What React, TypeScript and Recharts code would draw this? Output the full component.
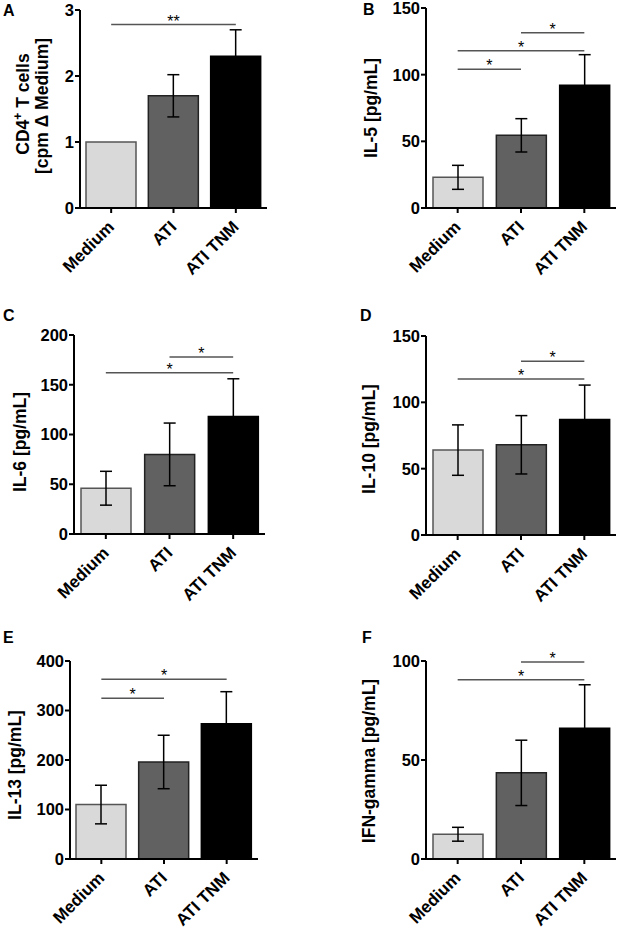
import React from 'react'
import { BarChart, Bar, XAxis, YAxis, ErrorBar, Cell, ReferenceLine } from 'recharts'

const categories = ['Medium', 'ATI', 'ATI TNM']
const barFills = ['#d9d9d9', '#616161', '#000000']
const barStrokes = ['#555555', '#222222', '#000000']

// means and SD per panel
const cd4Values = [1.0, 1.7, 2.3]
const cd4Errors = [null, 0.32, 0.4]
const il5Values = [23, 54.5, 92]
const il5Errors = [9, 12.5, 23]
const il6Values = [46, 80, 118]
const il6Errors = [17, 31.5, 38]
const il10Values = [64, 68, 87]
const il10Errors = [19, 22, 26]
const il13Values = [110, 196, 273]
const il13Errors = [39, 54, 65]
const ifnValues = [12.5, 43.5, 66]
const ifnErrors = [3.5, 16.5, 22]

const cd4Ticks = [0, 1, 2, 3]
const il5Ticks = [0, 50, 100, 150]
const il6Ticks = [0, 50, 100, 150, 200]
const il10Ticks = [0, 50, 100, 150]
const il13Ticks = [0, 100, 200, 300, 400]
const ifnTicks = [0, 50, 100]

// significance brackets: [from, to, y, mark]
const cd4Sig = [['Medium', 'ATI TNM', 2.78, '**']]
const il5Sig = [['Medium', 'ATI', 104, '*'], ['Medium', 'ATI TNM', 118, '*'], ['ATI', 'ATI TNM', 131.5, '*']]
const il6Sig = [['Medium', 'ATI TNM', 162, '*'], ['ATI', 'ATI TNM', 178, '*']]
const il10Sig = [['Medium', 'ATI TNM', 117.5, '*'], ['ATI', 'ATI TNM', 131, '*']]
const il13Sig = [['Medium', 'ATI', 325, '*'], ['Medium', 'ATI TNM', 363, '*']]
const ifnSig = [['Medium', 'ATI TNM', 90.5, '*'], ['ATI', 'ATI TNM', 99.5, '*']]

const FONT = '"Liberation Sans", Arial, sans-serif'

const XTick = (props: any) => {
  const { x, y, payload } = props
  const ax = x + 4
  const ay = y + 13
  return (
    <text
      x={ax}
      y={ay}
      transform={`rotate(-45 ${ax} ${ay})`}
      textAnchor="end"
      fontSize={17}
      fontWeight="bold"
      fontFamily={FONT}
      fill="#000"
    >
      {payload.value}
    </text>
  )
}

const SigLabel = (mark: string) => (props: any) => {
  const vb = props.viewBox || {}
  const cx = vb.x + (vb.width || 0) / 2
  return (
    <text x={cx} y={vb.y + 2} textAnchor="middle" fontSize={16} fontFamily={FONT} fill="#000">
      {mark}
    </text>
  )
}

type PanelProps = {
  values: (number)[]
  errors: (number | null)[]
  ticks: number[]
  sig: any[]
  x0: number
  x1: number
  y0: number
  y1: number
}

function Panel({ values, errors, ticks, sig, x0, x1, y0, y1 }: PanelProps) {
  const yw = 40
  const mt = 20
  const left = x0 - yw
  const top = y0 - mt
  const width = x1 - left + 1
  const height = y1 - top + 80
  const data = categories.map((name, i) => ({ name, value: values[i], err: errors[i] }))
  return (
    <div style={{ position: 'absolute', left, top }}>
      <BarChart
        width={width}
        height={height}
        data={data}
        margin={{ top: mt, right: 1, left: 0, bottom: 0 }}
        barSize={50}
      >
        <XAxis
          dataKey="name"
          height={80}
          interval={0}
          tick={<XTick />}
          tickSize={5}
          axisLine={{ stroke: '#000', strokeWidth: 2 }}
          tickLine={{ stroke: '#000', strokeWidth: 2 }}
        />
        <YAxis
          width={yw}
          domain={[ticks[0], ticks[ticks.length - 1]]}
          ticks={ticks}
          interval={0}
          tickSize={5}
          tickMargin={1}
          axisLine={{ stroke: '#000', strokeWidth: 2 }}
          tickLine={{ stroke: '#000', strokeWidth: 2 }}
          tick={{ fill: '#000', fontSize: 16.5, fontWeight: 'bold', fontFamily: FONT }}
        />
        <Bar dataKey="value" isAnimationActive={false} strokeWidth={1.5}>
          {data.map((d, i) => (
            <Cell key={d.name} fill={barFills[i]} stroke={barStrokes[i]} />
          ))}
          <ErrorBar dataKey="err" width={6} stroke="#000" strokeWidth={1.5} direction="y" />
        </Bar>
        {sig.map((s, i) => (
          <ReferenceLine
            key={i}
            segment={[{ x: s[0], y: s[2] }, { x: s[1], y: s[2] }]}
            stroke="#555"
            strokeWidth={1.5}
            ifOverflow="visible"
            label={SigLabel(s[3])}
          />
        ))}
      </BarChart>
    </div>
  )
}

const letterStyle = { fontSize: 16, fontWeight: 'bold' as const, fontFamily: FONT, fill: '#000' }
const labelStyle = { fontSize: 17.5, fontWeight: 'bold' as const, fontFamily: FONT, fill: '#000' }

function YLabel({ x, y, children }: { x: number; y: number; children: React.ReactNode }) {
  return (
    <text x={x} y={y} transform={`rotate(-90 ${x} ${y})`} textAnchor="middle" style={labelStyle}>
      {children}
    </text>
  )
}

export default function App() {
  return (
    <div style={{ position: 'absolute', left: 0, top: 0, width: 617, height: 928, background: '#fff' }}>
      <Panel values={cd4Values} errors={cd4Errors} ticks={cd4Ticks} sig={cd4Sig} x0={80} x1={267} y0={10} y1={208} />
      <Panel values={il5Values} errors={il5Errors} ticks={il5Ticks} sig={il5Sig} x0={426} x1={616} y0={8} y1={208} />
      <Panel values={il6Values} errors={il6Errors} ticks={il6Ticks} sig={il6Sig} x0={74} x1={265} y0={335} y1={534} />
      <Panel values={il10Values} errors={il10Errors} ticks={il10Ticks} sig={il10Sig} x0={426} x1={616} y0={336} y1={535} />
      <Panel values={il13Values} errors={il13Errors} ticks={il13Ticks} sig={il13Sig} x0={70} x1={258} y0={661} y1={859} />
      <Panel values={ifnValues} errors={ifnErrors} ticks={ifnTicks} sig={ifnSig} x0={426} x1={616} y0={661} y1={859} />
      <svg width={617} height={928} style={{ position: 'absolute', left: 0, top: 0, pointerEvents: 'none' }}>
        <text x={3} y={16} style={letterStyle}>A</text>
        <text x={363} y={15} style={letterStyle}>B</text>
        <text x={3} y={321} style={letterStyle}>C</text>
        <text x={360} y={321} style={letterStyle}>D</text>
        <text x={3} y={643} style={letterStyle}>E</text>
        <text x={362} y={643} style={letterStyle}>F</text>
        <YLabel x={29} y={104}>
          CD4<tspan fontSize={12} dy={-7}>+</tspan>
          <tspan dy={7}> T cells</tspan>
        </YLabel>
        <YLabel x={48} y={106}>[cpm Δ Medium]</YLabel>
        <YLabel x={377} y={108}>IL-5 [pg/mL]</YLabel>
        <YLabel x={26} y={442}>IL-6 [pg/mL]</YLabel>
        <YLabel x={375} y={439}>IL-10 [pg/mL]</YLabel>
        <YLabel x={21} y={765}>IL-13 [pg/mL]</YLabel>
        <YLabel x={375} y={761}>IFN-gamma [pg/mL]</YLabel>
      </svg>
    </div>
  )
}
